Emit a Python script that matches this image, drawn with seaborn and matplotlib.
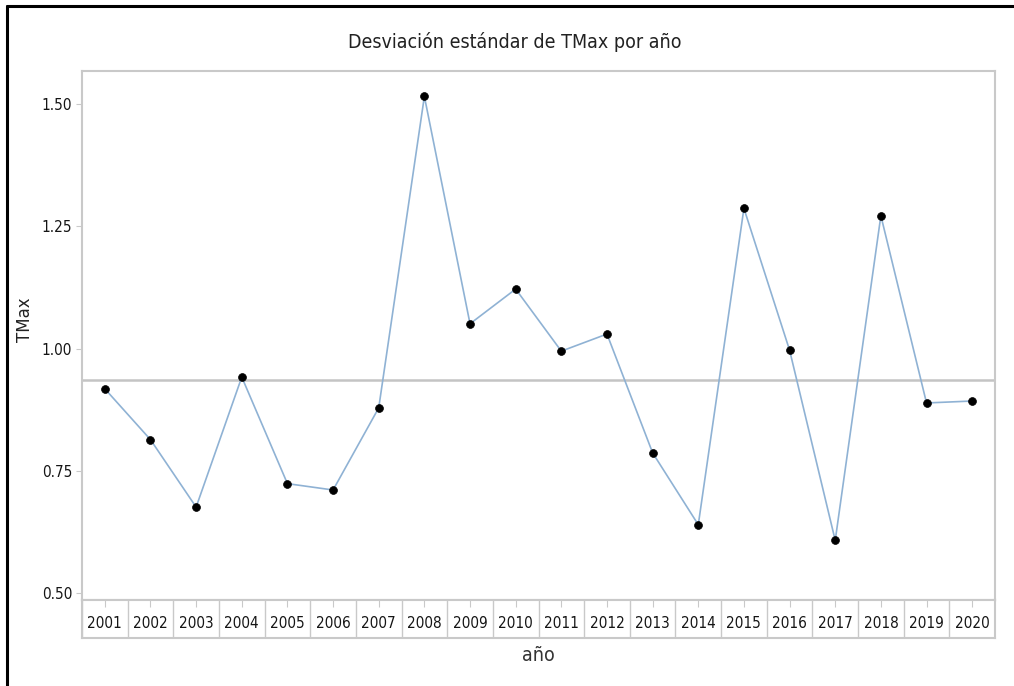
import matplotlib
matplotlib.use('Agg')
import matplotlib.pyplot as plt
from matplotlib.lines import Line2D
import seaborn as sns
import pandas as pd

# datos
years = ['2001', '2002', '2003', '2004', '2005', '2006', '2007', '2008', '2009', '2010',
         '2011', '2012', '2013', '2014', '2015', '2016', '2017', '2018', '2019', '2020']
tmax_sd = [0.918, 0.814, 0.676, 0.942, 0.724, 0.711, 0.879, 1.516, 1.051, 1.122,
           0.995, 1.030, 0.787, 0.640, 1.287, 0.997, 0.608, 1.272, 0.889, 0.893]
ref_value = 0.935
y_ticks = [0.50, 0.75, 1.00, 1.25, 1.50]

sns.set_style('white')
plt.rcParams['font.family'] = ['DejaVu Sans']
plt.rcParams['font.stretch'] = 'condensed'

df = pd.DataFrame({'año': years, 'TMax': tmax_sd})

fig = plt.figure(figsize=(10.14, 6.86), dpi=100)
ax = fig.add_axes([82 / 1014, 1 - 600 / 686, 913 / 1014, 529 / 686])
ax_tab = fig.add_axes([82 / 1014, 1 - 638 / 686, 913 / 1014, 38 / 686])

frame_col = '#c9c9c9'
text_col = '#151515'

# línea de referencia
ax.axhline(ref_value, color='#c4c4c4', lw=1.8, zorder=1)

sns.lineplot(data=df, x='año', y='TMax', color='#8fb2d4', lw=1.2, ax=ax, zorder=2)
sns.scatterplot(data=df, x='año', y='TMax', color='black', s=32, edgecolor='black',
                linewidth=0.5, ax=ax, zorder=3)

ax.set_xlim(-0.5, len(years) - 0.5)
ax.set_ylim(0.486, 1.568)
ax.set_yticks(y_ticks)
ax.set_yticklabels([f'{v:.2f}' for v in y_ticks])
ax.set_xticks([])
ax.set_xlabel('')
ax.set_ylabel('TMax', fontsize=12, fontstretch='normal', color='#222222')
ax.yaxis.set_label_coords(-48 / 913, 0.53)
ax.tick_params(axis='y', direction='out', length=4, width=0.8, color=frame_col,
               labelsize=11, labelcolor=text_col, pad=3, left=True)
for sp in ax.spines.values():
    sp.set_color(frame_col)
    sp.set_linewidth(1.5)

# tabla de categorías bajo el eje
ax_tab.set_xlim(-0.5, len(years) - 0.5)
ax_tab.set_ylim(0, 1)
ax_tab.set_yticks([])
ax_tab.set_xticks(range(len(years)))
ax_tab.xaxis.tick_top()
ax_tab.tick_params(axis='x', direction='in', length=5, width=0.8, color=frame_col,
                   labeltop=False, labelbottom=False)
for i in range(len(years) + 1):
    ax_tab.axvline(i - 0.5, color=frame_col, lw=1.0)
for i, yr in enumerate(years):
    ax_tab.text(i, 0.38, yr, ha='center', va='center', fontsize=11, color=text_col)
for sp in ax_tab.spines.values():
    sp.set_color(frame_col)
    sp.set_linewidth(1.5)
ax_tab.set_xlabel('año', fontsize=14, color='#333333', labelpad=6)

fig.suptitle('Desviación estándar de TMax por año', x=515 / 1014, y=1 - 42 / 686,
             va='center', fontsize=14, color='#222222')

# marco negro de la captura
fig.add_artist(Line2D([7 / 1014, 7 / 1014], [0, 1 - 6 / 686], transform=fig.transFigure,
                      color='black', lw=2.2))
fig.add_artist(Line2D([7 / 1014, 1], [1 - 6 / 686, 1 - 6 / 686], transform=fig.transFigure,
                      color='black', lw=2.2))

fig.savefig('out.png', dpi=100)
